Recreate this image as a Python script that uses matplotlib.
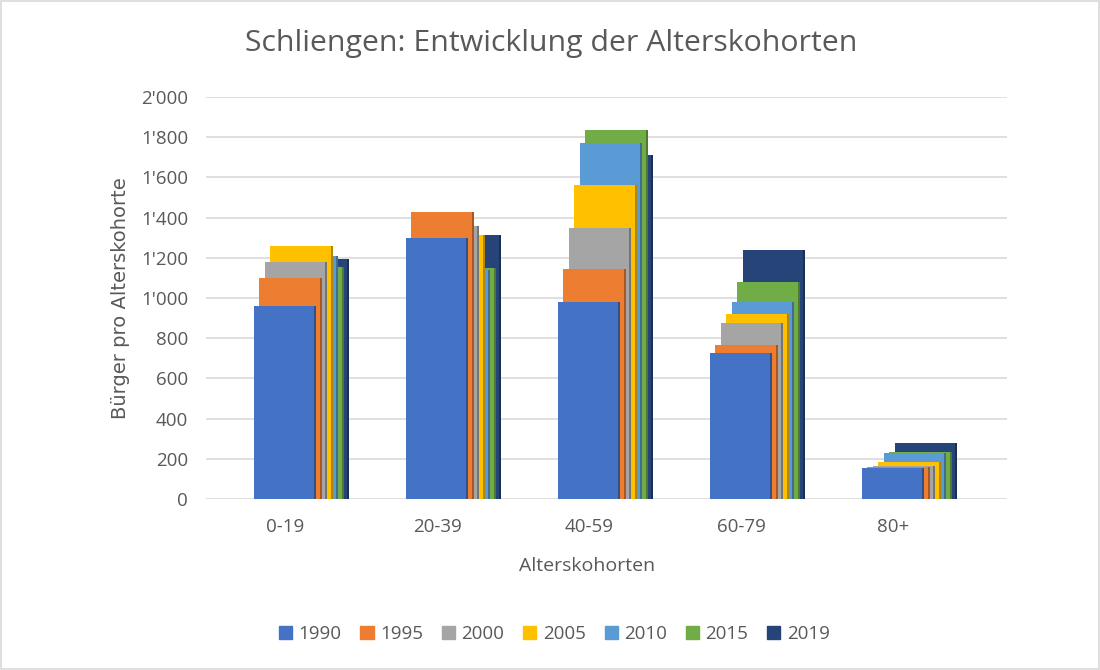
import numpy as np
import matplotlib
matplotlib.use("Agg")
import matplotlib.pyplot as plt
from matplotlib.patches import Patch, Rectangle
from matplotlib.colors import to_rgb

# Data
categories = ["0-19", "20-39", "40-59", "60-79", "80+"]
years = ["1990", "1995", "2000", "2005", "2010", "2015", "2019"]
v1990 = [960, 1297, 982, 728, 156]
v1995 = [1098, 1429, 1143, 766, 158]
v2000 = [1178, 1358, 1347, 875, 163]
v2005 = [1259, 1313, 1562, 920, 186]
v2010 = [1209, 1139, 1770, 982, 230]
v2015 = [1154, 1151, 1836, 1081, 235]
v2019 = [1192, 1312, 1711, 1239, 280]
series = [v1990, v1995, v2000, v2005, v2010, v2015, v2019]
colors = ["#4472C4", "#ED7D31", "#A5A5A5", "#FFC000", "#5B9BD5", "#70AD47", "#264478"]

plt.rcParams['font.family'] = ['Open Sans', 'DejaVu Sans']
text_col = "#595959"

fig = plt.figure(figsize=(11, 6.7), dpi=100)
ax = fig.add_axes([0.1873, 0.2552, 0.7282, 0.6000])

x = np.arange(len(categories))
width = 0.41
shift = 0.036
side = 0.012

# back series first, 1990 in front
for k in range(len(series) - 1, -1, -1):
    xs = x + k * shift
    ax.bar(xs, series[k], width=width, color=colors[k], zorder=3 + (len(series) - k))
    dark = tuple(c * 0.7 for c in to_rgb(colors[k]))
    ax.bar(xs + width / 2 - side / 2, series[k], width=side, color=dark,
           zorder=3 + (len(series) - k))

ax.set_xlim(-0.52, 4.75)
ax.set_ylim(0, 2000)
ax.set_yticks(np.arange(0, 2001, 200))
ax.set_yticklabels([f"{v:,}".replace(",", "'") for v in range(0, 2001, 200)])
ax.set_xticks(x)
ax.set_xticklabels(categories)
ax.tick_params(axis='both', length=0, colors=text_col, labelsize=13.5)
ax.tick_params(axis='y', pad=13)
ax.tick_params(axis='x', pad=14)
ax.grid(axis='y', color="#D9D9D9", lw=1.2, zorder=0)
ax.set_axisbelow(True)
for s in ax.spines.values():
    s.set_visible(False)

ax.set_xlabel("Alterskohorten", color=text_col, fontsize=14, labelpad=14)
ax.xaxis.set_label_coords(0.476, -0.145)
ax.set_ylabel("Bürger pro Alterskohorte", color=text_col, fontsize=14,
              family=['DejaVu Sans'])
ax.yaxis.set_label_coords(-0.095, 0.5)
fig.text(0.501, 0.935, "Schliengen: Entwicklung der Alterskohorten",
         ha='center', va='center', color=text_col, fontsize=21.8)

handles = [Patch(color=c) for c in colors]
fig.legend(handles, years, loc='center', bbox_to_anchor=(0.504, 0.054), ncol=7,
           frameon=False, handlelength=0.7, handleheight=0.7, handletextpad=0.35,
           columnspacing=1.0, fontsize=13.5, labelcolor=text_col)

fig.patches.append(Rectangle((0.001, 0.001), 0.998, 0.997, transform=fig.transFigure,
                             fill=False, edgecolor="#D9D9D9", lw=1.2))

fig.savefig("out.png", dpi=100)
